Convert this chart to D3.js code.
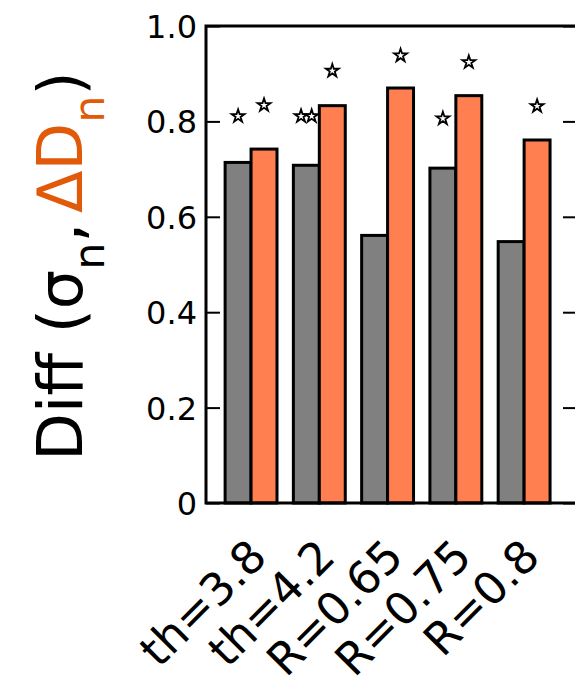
<!DOCTYPE html>
<html>
<head>
<meta charset="utf-8">
<script src="https://cdn.jsdelivr.net/npm/d3@7"></script>
<style>
  html, body { margin: 0; padding: 0; background: #fff; }
  svg { display: block; font-family: "DejaVu Sans", sans-serif; }
</style>
</head>
<body>
<svg id="chart" width="575" height="694"></svg>
<script>
// ---- data ----
const categories = ["th=3.8", "th=4.2", "R=0.65", "R=0.75", "R=0.8"];
const sigmaValues = [0.714, 0.708, 0.561, 0.702, 0.548];   // grey bars (σn)
const deltaValues = [0.742, 0.833, 0.870, 0.854, 0.761];   // orange bars (ΔDn)
const sigmaStarCount = [1, 2, 0, 1, 0];
const sigmaStarY = [0.811, 0.811, null, 0.806, null];
const deltaStarCount = [1, 1, 1, 1, 1];
const deltaStarY = [0.834, 0.906, 0.938, 0.924, 0.832];
const yTickValues = [0, 0.2, 0.4, 0.6, 0.8, 1.0];
const yTickLabels = ["0", "0.2", "0.4", "0.6", "0.8", "1.0"];

// ---- layout ----
const svg = d3.select("#chart");
const pLeft = 206, pTop = 26, pRight = 576, pBottom = 503;
const frameRight = 578;
const barW = 0.38;
const greyCol = "#808080", orangeCol = "#ff7f50", labelOrange = "#e05a0a";

const x = d3.scaleLinear().domain([-0.47, 4.95]).range([pLeft, pRight]);
const y = d3.scaleLinear().domain([0, 1]).range([pBottom, pTop]);
const bwPx = x(barW) - x(0);

const g = svg.append("g");

// bars
g.selectAll("rect.grey").data(sigmaValues).join("rect")
  .attr("class", "grey")
  .attr("x", (d, i) => x(i) - bwPx / 2)
  .attr("y", d => y(d))
  .attr("width", bwPx)
  .attr("height", d => y(0) - y(d))
  .attr("fill", greyCol).attr("stroke", "#000").attr("stroke-width", 3);

g.selectAll("rect.orange").data(deltaValues).join("rect")
  .attr("class", "orange")
  .attr("x", (d, i) => x(i + barW) - bwPx / 2)
  .attr("y", d => y(d))
  .attr("width", bwPx)
  .attr("height", d => y(0) - y(d))
  .attr("fill", orangeCol).attr("stroke", "#000").attr("stroke-width", 3);

// stars (open)
const star = d3.symbol().type(d3.symbolStar).size(52);
const starGap = 10.6;
function drawStars(counts, ys, offset) {
  counts.forEach((c, i) => {
    for (let k = 0; k < c; k++) {
      const cx = x(i + offset) + (k - (c - 1) / 2) * starGap;
      g.append("path").attr("d", star)
        .attr("transform", `translate(${cx},${y(ys[i])})`)
        .attr("fill", "#fff").attr("stroke", "#000")
        .attr("stroke-width", 1.8).attr("stroke-linejoin", "miter");
    }
  });
}
drawStars(sigmaStarCount, sigmaStarY, 0);
drawStars(deltaStarCount, deltaStarY, barW);

// y axis (left) with inward ticks
const yAxis = d3.axisLeft(y).tickValues(yTickValues)
  .tickFormat((d, i) => yTickLabels[i]).tickSize(-14).tickPadding(9);
const ya = svg.append("g").attr("transform", `translate(${pLeft},0)`).call(yAxis);
ya.select(".domain").remove();
ya.selectAll("line").attr("stroke", "#000").attr("stroke-width", 2);
ya.selectAll("text").attr("font-size", 32).attr("fill", "#000")
  .attr("font-family", "DejaVu Sans").attr("dy", "0.36em");

// right axis ticks
const yAxisR = d3.axisRight(y).tickValues(yTickValues).tickFormat("").tickSize(-14);
const yr = svg.append("g").attr("transform", `translate(${frameRight - 1},0)`).call(yAxisR);
yr.select(".domain").remove();
yr.selectAll("line").attr("stroke", "#000").attr("stroke-width", 2);

// frame
svg.append("rect").attr("x", pLeft).attr("y", pTop)
  .attr("width", frameRight - pLeft).attr("height", pBottom - pTop)
  .attr("fill", "none").attr("stroke", "#000").attr("stroke-width", 3);

// x labels rotated
svg.selectAll("text.xlab").data(categories).join("text")
  .attr("class", "xlab")
  .attr("transform", (d, i) => `translate(${x(i + barW) + 5},559) rotate(-45)`)
  .attr("text-anchor", "end")
  .attr("font-size", 45)
  .attr("fill", "#000")
  .text(d => d);

// y label
const yl = svg.append("text")
  .attr("transform", "translate(82,266) rotate(-90)")
  .attr("text-anchor", "middle")
  .attr("font-size", 62)
  .attr("fill", "#000");
yl.append("tspan").text("Diff (σ");
yl.append("tspan").attr("font-size", 43).attr("dy", 22).text("n");
yl.append("tspan").attr("dy", -22).text(",");
yl.append("tspan").attr("fill", labelOrange).attr("dx", 10).text("ΔD");
yl.append("tspan").attr("fill", labelOrange).attr("font-size", 43).attr("dy", 22).text("n");
yl.append("tspan").attr("dy", -22).text(")");
</script>
</body>
</html>
